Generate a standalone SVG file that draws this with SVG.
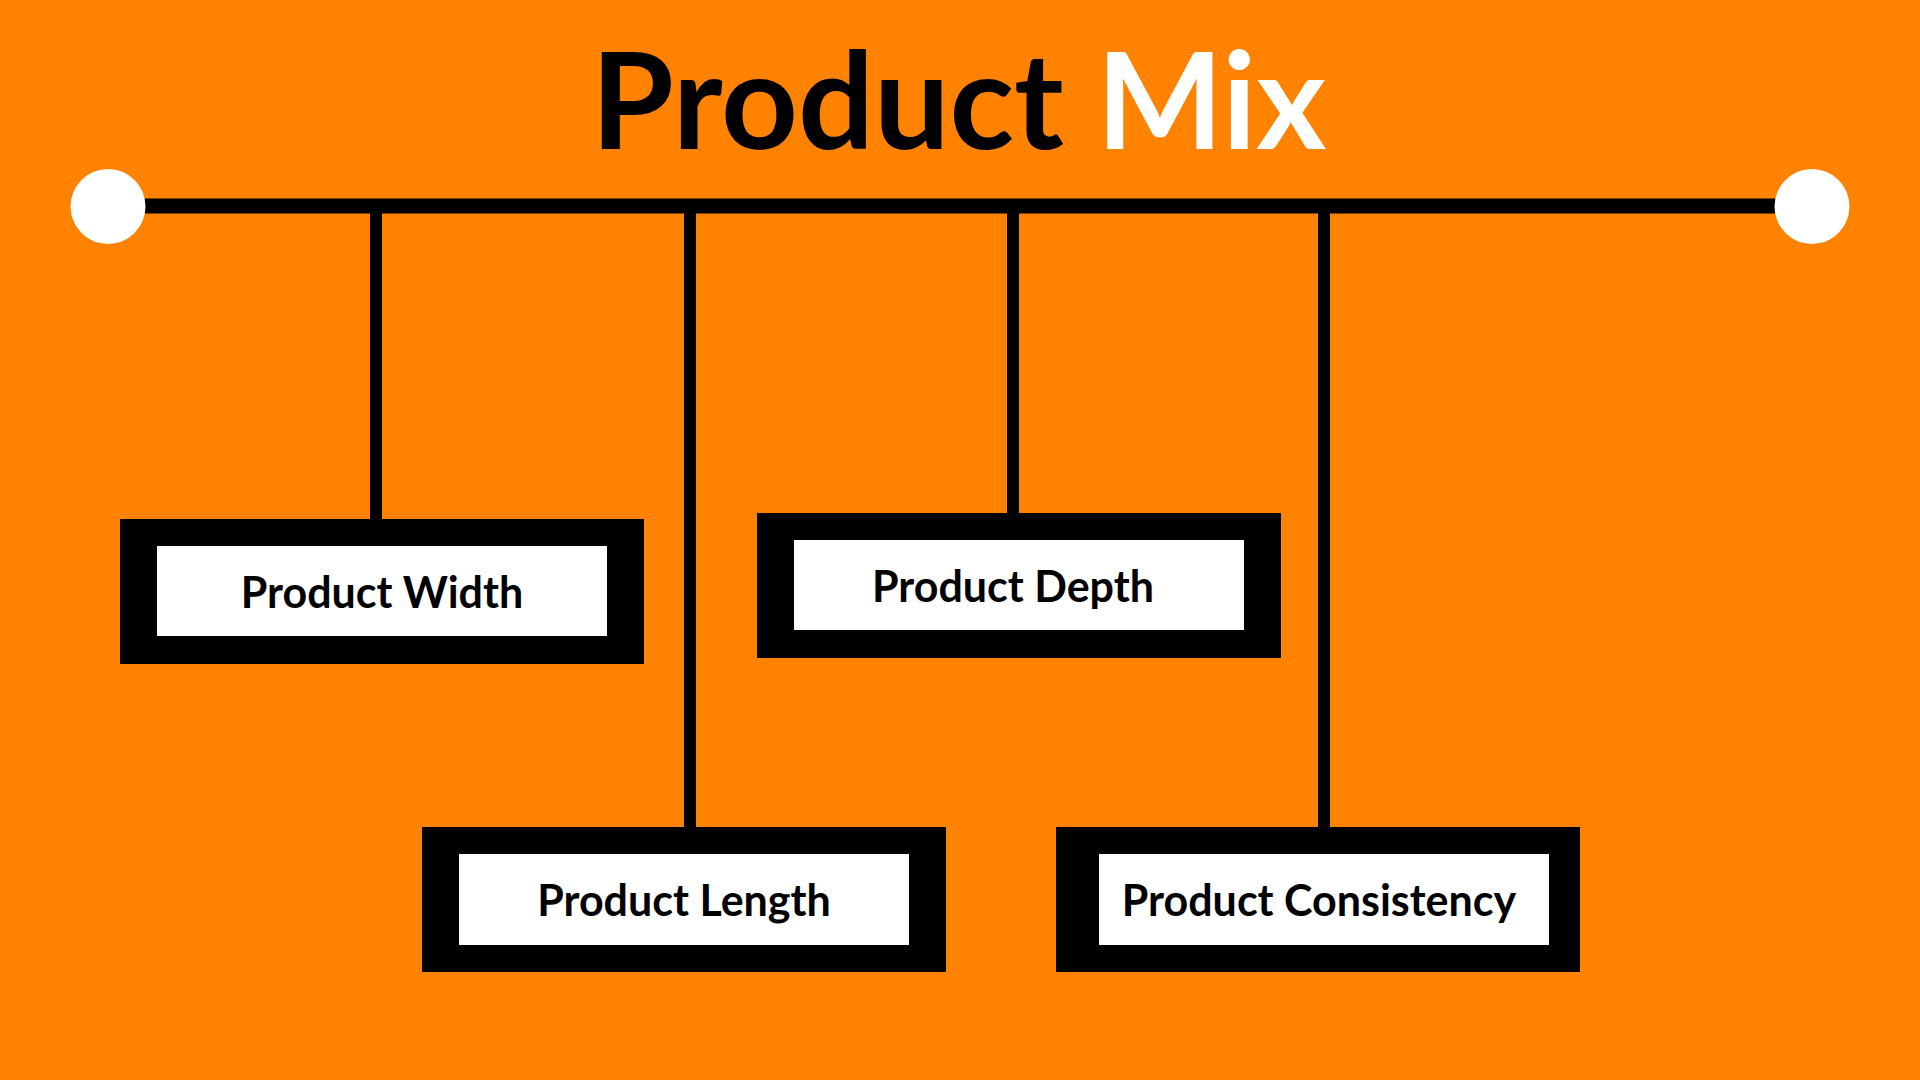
<svg xmlns="http://www.w3.org/2000/svg" width="1920" height="1080" viewBox="0 0 1920 1080">
<style>
.title{font-family:Lato,"Liberation Sans",sans-serif;font-weight:700;font-size:134px}
.box{fill:#000}
.inner{fill:#fff}
.lbl{font-family:Lato,"Liberation Sans",sans-serif;font-weight:700;font-size:43px;fill:#000;text-anchor:middle}
.conn{stroke:#000;fill:none}
</style>
<rect width="1920" height="1080" fill="#FF8200"/>
<g id="title"><text class="title" x="591" y="149"><tspan fill="#000">Product </tspan><tspan fill="#fff">Mix</tspan></text></g>
<g id="connectors">
<line class="conn" x1="108" y1="206" x2="1812" y2="206" stroke-width="15"/>
<line class="conn" x1="376" y1="206" x2="376" y2="520" stroke-width="12"/>
<line class="conn" x1="690" y1="206" x2="690" y2="828" stroke-width="12"/>
<line class="conn" x1="1013" y1="206" x2="1013" y2="514" stroke-width="12"/>
<line class="conn" x1="1324" y1="206" x2="1324" y2="828" stroke-width="12"/>
</g>
<g id="end-left"><circle cx="108" cy="206.5" r="37.5" fill="#fff"/></g>
<g id="end-right"><circle cx="1812" cy="206.5" r="37.5" fill="#fff"/></g>
<g id="product-width">
<rect class="box" x="120" y="519" width="524" height="145"/>
<rect class="inner" x="157" y="546" width="450" height="90"/>
<text class="lbl" x="382" y="608">Product Width</text>
</g>
<g id="product-depth">
<rect class="box" x="757" y="513" width="524" height="145"/>
<rect class="inner" x="794" y="540" width="450" height="90"/>
<text class="lbl" x="1013" y="602">Product Depth</text>
</g>
<g id="product-length">
<rect class="box" x="422" y="827" width="524" height="145"/>
<rect class="inner" x="459" y="854" width="450" height="91"/>
<text class="lbl" x="684" y="916">Product Length</text>
</g>
<g id="product-consistency">
<rect class="box" x="1056" y="827" width="524" height="145"/>
<rect class="inner" x="1099" y="854" width="450" height="91"/>
<text class="lbl" x="1319" y="916">Product Consistency</text>
</g>
</svg>
